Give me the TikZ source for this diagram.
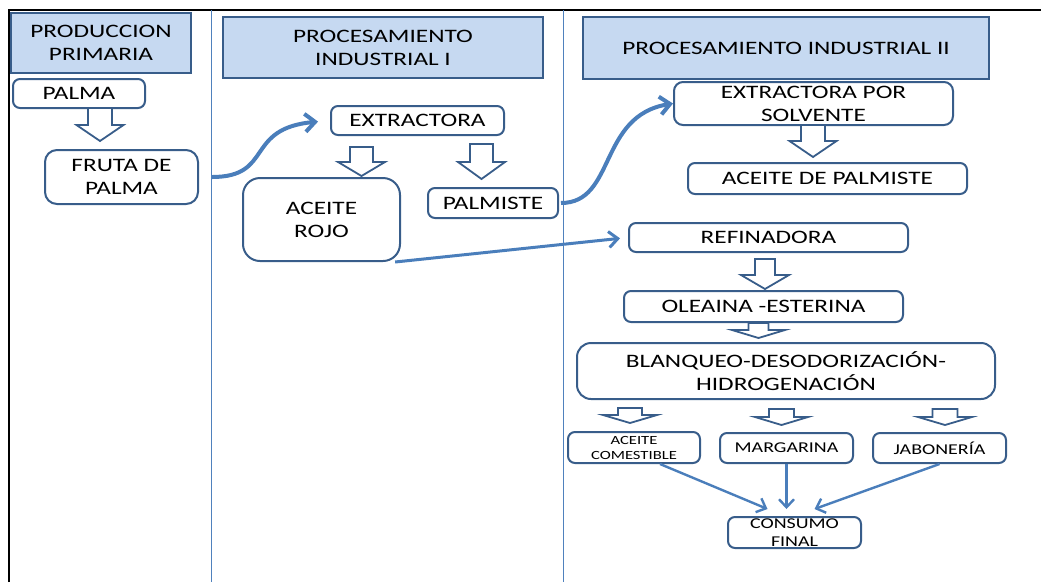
\documentclass[tikz,border=0pt]{standalone}
\usepackage{fontspec}
\setmainfont{Carlito}[FakeStretch=1.33]
\usetikzlibrary{arrows.meta,positioning}
\definecolor{bordeazul}{RGB}{56,93,138}
\definecolor{cabecera}{RGB}{198,217,241}
\definecolor{flechaazul}{RGB}{74,126,187}
\definecolor{lineacol}{RGB}{79,129,189}
\tikzset{
    flujo/.style={x=1pt,y=-1pt,line join=miter},
    etapa/.style={rectangle,draw=bordeazul,fill=cabecera,line width=2pt,
                     align=center,inner sep=0pt,font=\fontsize{19}{23}\selectfont},
    caja/.style={rectangle,rounded corners=7pt,draw=bordeazul,fill=white,line width=2pt,
                     align=center,inner sep=0pt,font=\fontsize{19}{23}\selectfont},
    cajita/.style={caja,font=\fontsize{15}{18}\selectfont},
    bloque/.style={draw=bordeazul,fill=white,line width=1.8pt},
    curva/.style={draw=flechaazul,line width=4pt,-{Straight Barb[length=10pt,width=18pt]}},
    recta/.style={draw=flechaazul,line width=3pt,-{Straight Barb[length=9pt,width=16pt]}},
    fina/.style={draw=flechaazul,line width=2.4pt,-{Straight Barb[length=8pt,width=15pt]}},
    columna/.style={draw=lineacol,line width=1pt},
    }
\newcommand{\flechabloque}[6]{%
    \draw[bloque] (#1-#5,#2) -- (#1+#5,#2) -- (#1+#5,#3) -- (#1+#6,#3) -- (#1,#4)
        -- (#1-#6,#3) -- (#1-#5,#3) -- cycle;}

\begin{document}
\begin{tikzpicture}[flujo]
            \useasboundingbox (0,0) rectangle (1041,582);
            \draw[black,line width=1.5pt] (9,582) -- (9,10) -- (1041,10);
            \draw[columna] (211,10) -- (211,582);
            \draw[columna] (563,10) -- (563,582);

            \node[etapa, minimum width=180pt, minimum height=60pt] (primaria) at (101,43) {PRODUCCION\\PRIMARIA};
            \node[etapa, minimum width=320pt, minimum height=61pt] (industrial1) at (383,47.5) {PROCESAMIENTO\\INDUSTRIAL I};
            \node[etapa, minimum width=406pt, minimum height=62pt] (industrial2) at (786,48) {PROCESAMIENTO INDUSTRIAL II};

            \node[caja, minimum width=132pt, minimum height=29pt] (palma) at (79,93.5) {PALMA};
            \node[caja, rounded corners=12pt, minimum width=153pt, minimum height=54pt] (fruta) at (121.5,177) {FRUTA DE\\PALMA};
            \node[caja, minimum width=173pt, minimum height=29pt] (extractora) at (417.5,120.5) {EXTRACTORA};
            \node[caja, rounded corners=17pt, minimum width=157pt, minimum height=83pt] (rojo) at (321.5,219.5) {ACEITE\\ROJO};
            \node[caja, minimum width=130pt, minimum height=30pt] (palmiste) at (493,203) {PALMISTE};
            \node[caja, rounded corners=9pt, minimum width=279pt, minimum height=43pt] (solvente) at (813.5,103.5) {EXTRACTORA POR\\SOLVENTE};
            \node[caja, minimum width=279pt, minimum height=31pt] (aceitepalmiste) at (827.5,178.5) {ACEITE DE PALMISTE};
            \node[caja, minimum width=279pt, minimum height=29pt] (refinadora) at (768.5,237.5) {REFINADORA};
            \node[caja, minimum width=279pt, minimum height=31pt] (oleina) at (763.5,306.5) {OLEAINA -ESTERINA};
            \node[caja, rounded corners=14pt, minimum width=418pt, minimum height=56pt] (blanqueo) at (786,371) {BLANQUEO-DESODORIZACIÓN-\\HIDROGENACIÓN};
            \node[cajita, font=\fontsize{12.5}{15}\selectfont, minimum width=132pt, minimum height=31pt] (comestible) at (634,447.5) {ACEITE\\COMESTIBLE};
            \node[cajita, minimum width=133pt, minimum height=30pt] (margarina) at (786.5,448) {MARGARINA};
            \node[cajita, minimum width=133pt, minimum height=30pt] (jaboneria) at (939.5,448) {JABONERÍA};
            \node[cajita, minimum width=133pt, minimum height=31pt] (consumo) at (794.5,532.5) {CONSUMO\\FINAL};

            \flechabloque{100}{108}{125}{141}{12}{23.5}
            \flechabloque{361.5}{147}{162}{176}{11.5}{23.5}
            \flechabloque{481.5}{144}{162}{179}{11.5}{23.5}
            \flechabloque{813}{125}{141}{157}{12}{23.5}
            \flechabloque{765}{259}{275}{289}{10}{24}
            \flechabloque{758.5}{323}{330}{338}{10}{26.5}
            \flechabloque{630}{408}{415}{423}{12}{27}
            \flechabloque{781.5}{409}{417}{425}{12.5}{26.5}
            \flechabloque{945}{409}{417}{425}{12.5}{27}

            \path[curva, shorten <=13pt, shorten >=12pt] (fruta.east) .. controls +(75,0) and +(-86,8) .. (extractora.west);
            \path[curva, shorten <=2pt] (palmiste.east) .. controls +(57,0) and +(-75,12) .. (solvente.west);
            \path[recta, shorten >=8pt] (rojo.-30) -- (refinadora.west);
            \path[fina] ([xshift=26pt]comestible.south) -- ([xshift=-27pt,yshift=7pt]consumo.north);
            \path[fina, shorten >=7pt] (margarina.south) -- (margarina.south |- consumo.north);
            \path[fina] (jaboneria.south) -- ([xshift=20pt,yshift=7pt]consumo.north);
        \end{tikzpicture}
\end{document}
